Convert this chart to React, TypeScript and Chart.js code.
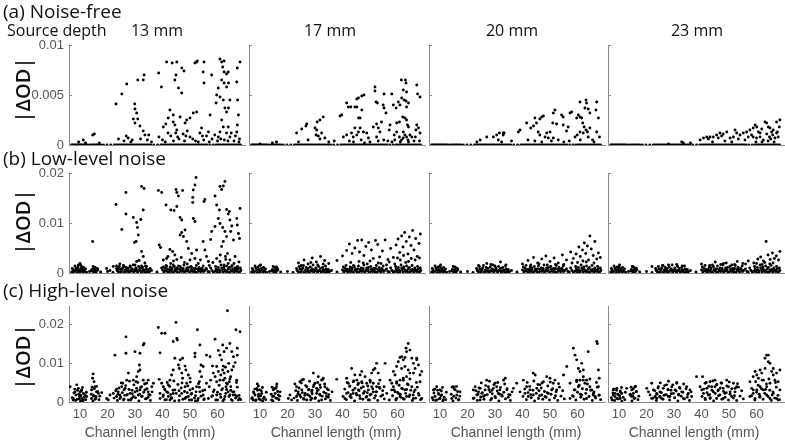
import React, { useEffect, useRef } from 'react';
import { Chart, registerables } from 'chart.js';
Chart.register(...registerables);

type Pt = [number, number];

// ---- Data: x = channel length (mm), y = |ΔOD| in units of 1e-3 ----
const DEPTHS = ['13 mm', '17 mm', '20 mm', '23 mm'];
const ROW_TITLES = ['(a) Noise-free', '(b) Low-level noise', '(c) High-level noise'];
const X_TICKS = [10, 20, 30, 40, 50, 60];
const X_MIN = 6;
const X_MAX = 70;
const ROW_Y_MAX = [10, 20, 24.6];
const ROW_Y_TICKS = [[0, 5, 10], [0, 10, 20], [0, 10, 20]];
const ROW_Y_LABELS = [['0', '0.005', '0.01'], ['0', '0.01', '0.02'], ['0', '0.01', '0.02']];

// channel lengths of the points lying on the zero line (noise-free row)
const zeroLineX = [7, 7.4, 7.8, 8.3, 8.7, 9.1, 9.6, 10, 10.4, 10.9, 11.3, 11.8, 12.2, 12.7, 13.5, 14.2, 14.8, 15.3, 15.9, 16.4, 17, 17.6, 18.5, 19.8, 21.2, 22.5, 23.1, 23.7, 24.3, 24.9, 25.5, 26.1, 26.7, 27.3, 27.9, 28.5, 29.1, 29.7, 30.3, 30.9, 31.5, 32.1, 32.7, 33.3, 33.9, 34.5, 35.1, 35.7, 36.8, 38.2, 39.4, 40, 40.6, 41.2, 41.8, 42.4, 43, 43.6, 44.2, 44.8, 45.4, 46, 46.6, 47.2, 47.8, 48.4, 49, 49.6, 50.2, 50.8, 51.4, 52, 52.6, 53.2, 53.8, 54.4, 55, 55.6, 56.2, 57.2, 58.4, 59.4, 60, 60.6, 61.2, 61.8, 62.4, 63, 63.6, 64.2, 64.8, 65.4, 66, 66.6, 67.2, 67.8, 68.4];

const nf13: Pt[] = [[11.2,0.5],[15.2,1.1],[14.6,1.0],[23.1,4.1],[25.2,5.1],[27,6.1],[31,6.5],[33,6.5],[33.3,7.0],[29.9,4.1],[30,3.6],[30.6,3.2],[29.4,2.6],[31,2.6],[30,2.2],[31.8,1.9],[33,1.4],[33.6,1.0],[38.6,7.2],[39.6,5.8],[38.7,0.8],[40.3,1.8],[41.2,2.1],[42.1,2.7],[41.5,8.3],[43.5,8.2],[45.2,8.3],[44.5,6.5],[44.9,7.0],[47,7.7],[47.8,7.4],[45.8,5.7],[47,5.2],[42.7,3.5],[43.9,3.0],[43.9,2.3],[44.5,2.0],[45.2,1.5],[46.4,2.8],[48.2,2.2],[48.8,2.5],[50,2.7],[51.2,3.2],[52.4,3.3],[51.8,8.2],[52.4,8.3],[52.7,8.4],[55.1,8.3],[54.8,7.3],[55.1,6.2],[57.9,7.0],[53.6,1.2],[54.2,1.7],[57.3,3.0],[56.7,1.3],[60.9,8.6],[61.5,8.3],[62.4,8.4],[61.9,7.8],[62.4,7.3],[63.3,7.1],[63.9,7.3],[61.5,6.5],[62.4,6.2],[63.3,5.8],[64,6.2],[60.9,4.8],[62.1,4.5],[62.7,3.7],[63.3,3.3],[64,3.7],[60.3,5.7],[59.7,5.0],[59.5,4.2],[64.5,4.5],[61.5,2.5],[62.1,1.8],[60.9,1.3],[63.3,1.2],[60.3,0.8],[64.5,0.8],[63.9,1.8],[67.2,7.7],[67,6.3],[67.3,4.5],[67.6,3.0],[67.2,2.0],[68.2,8.3],[67,1.3],[9.5,0.3],[12,0.2],[17,0.2],[24,0.6],[26,0.4],[27.5,0.7],[29,0.5],[34.5,0.5],[36,0.3],[40,0.5],[43,0.9],[46,0.6],[48,0.4],[50,0.8],[52,0.4],[55,0.5],[58,0.6],[59,1.0],[62.5,0.5],[66,0.4],[68,0.6],[65,1.2],[56,0.9],[49,1.4],[47.5,1.1],[42,1.2],[35,1.0],[32,0.6],[26.8,0.9],[41,0.3],[44,0.4],[45.5,0.8],[51,0.6],[53,0.3],[54.5,0.9],[57,0.3],[60,0.4],[61.2,0.6],[63.8,0.4],[66.5,0.9],[67.8,0.3],[48.5,0.9],[44.8,1.2],[28.5,0.3]];

const nf17: Pt[] = [[23.3,1.2],[25.2,1.6],[26.7,1.9],[27,2.1],[30.8,2.3],[31.8,2.5],[33,2.8],[30,1.7],[30.6,1.5],[31.2,0.9],[32.4,1.2],[31.8,0.6],[33.6,0.7],[30.4,1.0],[39.1,2.9],[39.7,3.0],[41.5,4.2],[42.1,3.8],[43,3.8],[45.2,4.6],[45.8,4.7],[47,4.9],[47.8,5.0],[45.2,3.8],[44.5,3.8],[45.8,2.7],[46.4,2.7],[47,3.5],[40.3,0.8],[41.5,1.0],[43.3,1.2],[43.9,0.8],[45.2,1.0],[44.5,1.7],[45.8,1.3],[46.4,1.7],[47.6,1.3],[48.8,1.2],[49.4,0.7],[51.8,5.8],[51.8,5.4],[52.2,4.3],[52.7,4.2],[51.2,1.8],[52.4,2.1],[53,1.7],[53.6,1.3],[52.4,0.8],[54.2,2.3],[55.1,5.1],[54.8,4.0],[55.1,3.7],[55.8,3.2],[57.9,5.1],[58.5,4.0],[57.3,2.0],[57,1.5],[58.8,1.0],[59.5,3.7],[60.3,4.3],[60.9,4.0],[59.7,1.3],[60.7,0.8],[62.1,0.7],[61.4,6.5],[62.9,6.5],[63.1,6.2],[62.1,5.5],[63.3,5.3],[61.5,4.7],[62.4,4.5],[63.1,4.4],[64,4.2],[63.3,3.8],[61.9,2.8],[62.7,2.7],[63.3,2.5],[63.6,2.0],[64,1.8],[60.7,2.3],[59.7,2.2],[62.1,1.3],[62.7,1.0],[63.3,0.8],[61.5,0.5],[64.5,1.0],[65.2,0.8],[64,0.3],[67,6.0],[67,2.0],[67.6,1.7],[68.2,1.2],[66.7,1.5],[68.2,4.8],[67.3,5.1],[10,0.1],[14.5,0.2],[16,0.3],[24,0.3],[27.5,0.5],[35,0.3],[37,0.4],[42.5,0.4],[50,0.3],[55,0.5],[56.5,0.4],[58,0.3],[66,0.4],[44,0.3],[46.8,0.5],[48,0.2],[53,0.4],[59,0.5],[61,0.3],[63.8,0.5],[66.5,0.8],[68,0.4]];

const nf20: Pt[] = [[33,1.2],[39.1,1.5],[38.5,1.3],[41.5,2.2],[43,1.7],[44,1.9],[44.5,2.7],[45.1,2.2],[46.3,2.6],[47,2.8],[47.6,2.9],[45.7,1.3],[46.3,1.0],[48.2,0.8],[48.8,1.2],[50,1.3],[51.2,0.7],[49.4,0.7],[51.8,3.5],[51.2,3.2],[51,2.2],[52.4,2.1],[54.2,3.0],[54.8,2.8],[54.8,2.0],[56,1.4],[56.6,1.8],[57.3,3.2],[57.9,3.3],[59.7,2.7],[60.3,3.0],[60.9,2.8],[61.5,2.7],[60.9,4.3],[63.1,4.5],[63.3,4.2],[62.7,3.7],[63.9,3.6],[61.9,2.2],[62.4,1.8],[63.1,1.5],[63.6,1.3],[62.1,1.2],[63.9,0.8],[64.5,1.7],[60.9,1.3],[59.9,1.0],[59.1,0.8],[67,4.3],[66.7,3.5],[67.6,2.7],[67,1.3],[68,0.8],[64.5,3.2],[23.4,0.3],[24.6,0.5],[27,0.8],[29.4,0.8],[30.6,1.0],[31.6,1.2],[33,1.0],[33.3,1.2],[31.2,0.5],[32.4,0.3],[36,0.4],[42,0.5],[53,0.5],[57,0.4],[65.5,0.5],[44.5,0.4],[47,0.3],[50.5,0.4],[55,0.3],[61,0.5],[66,0.3]];

const nf23: Pt[] = [[32.8,0.3],[33.4,0.2],[39.5,0.5],[40.7,0.7],[41.9,0.8],[42.5,0.6],[43.1,0.8],[44.3,0.8],[45.5,1.0],[46.1,0.7],[46.7,1.2],[47.3,0.9],[47.9,1.1],[49.2,1.3],[50.4,0.7],[51.6,0.8],[52.2,1.5],[52.8,1.2],[54,1.0],[53.4,0.6],[55.2,1.2],[56.4,1.3],[57,0.8],[57.6,1.5],[58.2,1.0],[58.8,1.7],[59.5,2.0],[60.1,1.8],[60.7,1.3],[61.3,1.2],[61.9,1.6],[63.1,2.3],[63.7,2.2],[64.3,1.8],[64.9,1.7],[65.5,1.3],[66.1,1.5],[63.7,1.1],[64.7,0.8],[65.2,0.6],[65.9,1.0],[66.7,0.7],[67.3,1.2],[67.9,0.8],[68.3,1.8],[67.3,2.3],[67.6,1.3],[60,0.7],[62.5,0.5],[58.8,0.8],[61.3,0.8],[36,0.2],[28,0.1],[68.5,2.5],[44,0.3],[48.5,0.4],[51,0.3],[55.8,0.5],[59.8,0.3],[62,0.3],[64.2,0.4],[66.4,0.3]];

// low-level noise floor (row b), read as the dense band near zero
const lnFloor: Pt[] = [[7,0.2],[7.5,0.6],[8,0.3],[8.5,1.0],[9,0.1],[9.5,0.7],[10,0.4],[10.5,0.9],[11,0.2],[11.5,0.5],[12,0.8],[12.5,0.1],[13.5,0.3],[14.5,0.7],[15,0.2],[15.5,1.1],[16,0.4],[16.5,0.6],[17.5,0.2],[20,0.3],[22,0.1],[23.5,0.5],[24,0.2],[24.5,0.8],[25,0.3],[25.5,1.0],[26,0.1],[26.5,0.6],[27,0.3],[27.5,0.9],[28,0.2],[28.5,0.5],[29,0.8],[29.5,0.2],[30,0.4],[30.5,0.7],[31,0.1],[31.5,0.5],[32,0.9],[32.5,0.3],[33,0.6],[33.5,0.2],[34,0.8],[34.5,0.4],[35,0.1],[36,0.5],[38,0.2],[40,0.6],[40.5,0.2],[41,0.9],[41.5,0.4],[42,0.1],[42.5,0.7],[43,0.3],[43.5,1.0],[44,0.2],[44.5,0.6],[45,0.4],[45.5,0.8],[46,0.1],[46.5,0.5],[47,0.3],[47.5,0.9],[48,0.2],[48.5,0.6],[49,0.4],[49.5,1.1],[50,0.2],[50.5,0.7],[51,0.3],[51.5,0.5],[52,0.9],[52.5,0.1],[53,0.4],[53.5,0.7],[54,0.2],[54.5,0.6],[55,0.3],[56,0.8],[57,0.2],[58,0.5],[59,0.3],[59.5,0.8],[60,0.1],[60.5,0.6],[61,0.4],[61.5,1.0],[62,0.2],[62.5,0.7],[63,0.3],[63.5,0.5],[64,0.9],[64.5,0.1],[65,0.4],[65.5,0.7],[66,0.2],[66.5,0.6],[67,0.3],[67.5,0.8],[68,0.2],[68.5,0.5]];

const lnFloor2: Pt[] = [[7.2,0.9],[7.7,0.3],[8.2,1.4],[8.8,0.6],[9.3,1.2],[9.9,0.2],[10.2,1.6],[10.8,0.5],[11.3,1.1],[11.8,0.3],[14.3,0.4],[14.8,1.3],[15.3,0.6],[15.8,0.1],[16.3,0.9],[23.3,0.9],[23.8,0.4],[24.3,1.3],[24.8,0.1],[25.3,0.7],[25.8,1.5],[26.3,0.3],[26.8,1.1],[27.3,0.6],[27.8,0.2],[28.3,1.2],[28.8,0.4],[29.3,1.6],[29.8,0.6],[30.3,1.0],[30.8,0.3],[31.3,1.3],[31.8,0.5],[32.3,0.2],[32.8,1.1],[33.3,0.5],[33.8,1.4],[34.3,0.1],[34.8,0.7],[35.3,0.3],[40.3,1.2],[40.8,0.4],[41.3,1.5],[41.8,0.7],[42.3,0.3],[42.8,1.2],[43.3,0.6],[43.8,0.1],[44.3,1.3],[44.8,0.8],[45.3,0.2],[45.8,1.4],[46.3,0.7],[46.8,1.0],[47.3,0.5],[47.8,1.6],[48.3,0.3],[48.8,1.0],[49.3,0.6],[49.8,0.1],[50.3,1.3],[50.8,0.4],[51.3,0.9],[51.8,0.2],[52.3,1.5],[52.8,0.7],[53.3,1.1],[53.8,0.3],[54.3,0.9],[54.8,1.4],[55.3,0.5],[56.5,0.3],[57.5,1.0],[58.5,0.2],[59.3,1.3],[59.8,0.5],[60.3,1.1],[60.8,0.2],[61.3,1.6],[61.8,0.7],[62.3,1.2],[62.8,0.4],[63.3,1.4],[63.8,0.1],[64.3,1.1],[64.8,0.6],[65.3,1.5],[65.8,0.3],[66.3,1.0],[66.8,0.5],[67.3,1.3],[67.8,0.2],[68.3,1.0]];

const ln13: Pt[] = [[14.6,6.3],[23.1,13.7],[26.7,16.1],[26.7,11.8],[25.2,8.7],[29.4,11.1],[30.6,10.1],[30.9,9.1],[31.2,7.6],[30.4,6.3],[29.8,6.1],[32.1,10.7],[32.4,17.3],[33.3,16.9],[33,12.6],[32.4,4.3],[33,3.3],[31.5,2.5],[33.6,2.0],[32.4,1.4],[38.5,16.5],[39.7,16.1],[38.8,5.6],[39.3,5.1],[41.3,13.6],[43,12.6],[44.2,12.5],[45.2,13.3],[44.9,16.7],[45.2,16.1],[45.8,15.4],[47.3,16.5],[46.4,11.1],[47,10.6],[47,8.1],[47.6,7.3],[46.4,7.6],[48.2,8.6],[42.7,4.7],[43.7,4.3],[44.5,3.6],[40.3,2.6],[41.5,2.9],[43,1.9],[43.9,1.6],[45.2,2.7],[41.5,1.3],[39.7,1.0],[42.7,0.6],[45.2,1.0],[46.4,1.3],[48.8,6.3],[49.4,4.9],[50.6,3.9],[50,2.6],[52.2,19.1],[51.8,17.6],[51.2,16.6],[51,15.1],[51,14.1],[55.4,14.7],[55.1,14.3],[51.2,10.9],[51.8,10.3],[52.4,4.6],[51.8,2.9],[53,1.9],[53.4,0.9],[54.8,6.3],[55.4,4.6],[56,3.3],[56.7,2.3],[55.8,0.9],[57.5,6.7],[57.9,8.3],[59.1,9.3],[59.1,15.4],[59.7,13.6],[60.7,12.6],[60.9,17.3],[61.5,16.7],[62.1,17.4],[62.7,18.3],[60.3,10.9],[60.9,9.9],[61.9,9.1],[62.7,8.3],[63.3,7.3],[62.1,6.3],[61.5,5.3],[63.6,3.9],[62.9,3.3],[63.3,12.7],[64.3,12.3],[63.9,11.8],[64.5,10.6],[65.2,9.4],[64.8,8.3],[65.8,6.6],[59.7,2.9],[60.9,2.3],[62.4,1.6],[63.9,1.9],[65.2,1.3],[64.5,2.6],[66.4,3.3],[65.8,0.6],[67,1.0],[67,10.9],[67.2,9.6],[67.6,7.9],[68,6.9],[68.2,12.9],[8.8,0.9],[9.4,1.6],[10,1.9],[10.6,1.3],[11.2,0.6],[8.2,0.5],[9.8,0.4],[14.8,0.9],[15.4,0.5],[14.2,0.6],[19.7,0.9],[20.9,0.5],[22.1,1.3],[23.3,1.4],[23.9,0.9],[24.5,1.8],[25.2,0.6],[26,1.3],[27,0.9],[28.2,1.4],[28.8,0.7],[30,1.6],[30.6,2.3],[31.8,0.9],[33,0.5],[34.2,1.3],[35.5,0.9],[44,2.4],[46.8,3.1],[49,1.8],[50.5,1.2],[53.8,2.6],[57,1.5],[58.3,2.1],[61,3.6],[63,2.7],[66,1.9],[67.8,2.2],[42,3.3],[48,2.1]];

const ln17: Pt[] = [[16,1.2],[10,1.5],[24,2.0],[26,2.6],[27.5,1.8],[29,3.0],[30.5,2.2],[32,3.3],[33.5,2.5],[35,1.9],[31,1.6],[38,2.5],[40,3.4],[41.5,4.5],[42.5,5.8],[43.5,3.9],[44.5,5.0],[45.5,6.5],[46.2,4.2],[47,6.6],[47.8,3.5],[48.5,5.3],[49.5,6.1],[50.5,4.6],[51.2,2.9],[52,6.5],[52.8,5.7],[53.5,3.2],[54.5,4.4],[55.5,6.6],[56.5,2.7],[57.5,4.9],[58.5,3.1],[59.5,5.6],[60.2,6.8],[60.8,4.1],[61.5,7.4],[62,5.2],[62.6,8.1],[63.2,6.3],[63.8,3.8],[64.3,7.2],[64.9,5.5],[65.5,8.5],[66,4.6],[66.6,6.9],[67.2,3.3],[67.8,5.9],[68.3,7.8],[61,2.6],[63,2.1],[65,2.9],[59,1.8],[56,1.6],[53,2.0],[49,1.8],[46,2.3],[43,2.1],[44,1.5],[47.5,2.0],[50,2.4],[54,1.9],[57,2.2],[60,3.0],[62.2,3.5],[64,2.3],[66.4,2.6],[68,3.0],[25,1.5],[28.5,2.1],[33,1.8]];

const ln20: Pt[] = [[24,1.5],[27,1.9],[30,1.4],[32,2.2],[34,1.6],[40,1.8],[42,2.5],[44,3.1],[45.5,2.0],[47,2.8],[48.5,3.4],[50,2.3],[51.5,3.0],[53,2.0],[54.5,3.6],[56,2.6],[57.5,4.2],[58.5,2.9],[59.5,3.8],[60.5,5.2],[61,3.3],[61.8,4.6],[62.5,6.0],[63,3.9],[63.6,5.4],[64.5,7.4],[65,4.8],[65.7,3.5],[66.3,6.3],[67,2.8],[67.6,4.0],[68.3,3.1],[62,2.4],[64,2.6],[60,2.1],[55,1.7],[49,1.6],[43,1.6],[46,1.8],[52,1.7],[58,2.0],[63.2,2.2],[66,2.0],[28.5,1.7],[10,1.3],[15.5,1.2]];

const ln23: Pt[] = [[22,1.3],[28,1.6],[33,1.4],[40,1.8],[43,1.5],[45,2.2],[47,1.7],[49,2.0],[51,1.6],[53,2.3],[55,1.9],[57,2.4],[59,2.0],[60.5,2.8],[61.5,3.2],[62.5,2.4],[63.5,6.3],[64.2,3.6],[65,2.7],[65.8,4.0],[66.5,2.9],[67.2,3.4],[68,2.6],[68.5,4.3],[64.8,1.8],[62,1.7],[10,1.2],[15,1.3],[26,1.5],[31,1.7],[44,1.6],[48,1.9],[52,1.7],[56,1.8],[60,1.9],[63,2.1],[66,2.0]];

// high-level noise floor (row c), the dense clusters below ~0.005
const hnFloor: Pt[] = [[7.2,1.1],[7.8,2.3],[8.4,0.4],[9.1,3.0],[9.7,0.8],[10.3,1.6],[10.9,3.7],[11.5,1.2],[12.1,0.6],[8.1,3.3],[9.5,2.0],[11,0.2],[7.5,0.5],[10.5,2.8],[12.3,2.5],[14.1,2.0],[14.7,0.3],[15.2,3.4],[15.8,1.0],[16.4,2.7],[16.9,0.6],[15,1.5],[16,4.0],[14.4,3.8],[17.2,1.5],[22.4,1.0],[23,2.9],[23.6,0.4],[24.2,3.6],[24.8,1.3],[25.4,2.4],[26,0.7],[26.6,4.2],[27.2,1.9],[27.8,3.2],[28.4,0.5],[29,2.1],[29.6,4.4],[30.2,1.1],[30.8,2.8],[31.4,0.3],[32,3.7],[32.6,1.5],[33.2,2.5],[33.8,0.8],[34.4,3.4],[35,1.9],[35.6,0.4],[36.2,2.6],[25,4.9],[28,5.3],[31,5.0],[33.5,4.6],[23.8,2.0],[26.3,1.7],[28.9,3.0],[31.7,2.0],[34.8,1.2],[40.2,1.4],[40.8,3.3],[41.4,0.6],[42,2.4],[42.6,4.0],[43.2,1.1],[43.8,3.0],[44.4,0.3],[45,2.2],[45.6,4.5],[46.2,1.6],[46.8,3.6],[47.4,0.7],[48,2.7],[48.6,1.2],[49.2,4.1],[49.8,0.5],[50.4,2.0],[51,3.4],[51.6,1.0],[52.2,2.6],[52.8,0.4],[53.4,3.8],[54,1.5],[54.6,2.9],[55.2,0.8],[41.7,5.0],[44.1,5.4],[47.1,4.9],[50.1,5.1],[53.1,4.7],[43,1.9],[46,2.9],[49,2.4],[52,1.6],[58.2,1.6],[58.8,3.1],[59.4,0.5],[60,2.5],[60.6,4.3],[61.2,1.2],[61.8,3.4],[62.4,0.7],[63,2.2],[63.6,4.6],[64.2,1.4],[64.8,3.0],[65.4,0.4],[66,2.6],[66.6,1.0],[67.2,3.8],[67.8,1.7],[68.4,0.6],[59.7,5.2],[62.1,5.6],[64.5,5.9],[66.9,5.0],[61,2.0],[63.3,3.2],[65.7,1.8]];

const hn13: Pt[] = [[6.4,3.9],[8.8,4.4],[9.4,3.5],[10,2.6],[10.6,3.1],[11.2,2.2],[8.5,1.8],[9.8,1.4],[10.6,0.9],[11.8,1.8],[12.4,1.4],[9,0.7],[10.2,0.3],[8.2,2.6],[7.6,0.9],[11.2,0.5],[10,1.8],[14.8,7.2],[14.6,6.1],[15.1,5.2],[15.5,3.9],[14.2,3.1],[16,2.6],[14.8,1.8],[15.8,1.4],[16.7,2.2],[15.5,0.7],[14.2,0.9],[17.9,2.4],[19.7,0.9],[20.9,1.8],[20.3,0.5],[22.7,12.0],[23.3,3.3],[23.9,2.6],[22.1,2.2],[24.5,1.8],[25.2,3.9],[25.5,4.8],[26,3.1],[27,5.6],[26.4,3.5],[27.6,7.4],[26.7,16.7],[26.7,12.5],[23.3,1.4],[24.5,0.9],[25.8,0.5],[27,1.8],[28.2,2.2],[28.8,0.9],[27.6,0.5],[29.4,1.4],[30,2.6],[30.6,3.5],[31.2,1.8],[31.8,3.1],[32.4,3.9],[29.4,5.6],[30.6,6.5],[31.2,7.8],[31.8,8.2],[33,14.6],[33.3,15.0],[30,12.9],[31.8,12.5],[31.6,9.5],[30.4,5.2],[33,5.6],[34.2,4.8],[33.6,3.1],[34.8,2.6],[35.5,1.8],[34.2,0.9],[36.1,3.9],[36.7,4.8],[32.4,1.4],[34.8,5.6],[38.5,19.1],[39.1,12.6],[39.7,17.6],[40.9,17.6],[38.8,5.8],[39.7,4.8],[40.3,3.9],[40.9,3.1],[39.1,2.2],[40.3,1.8],[41.5,2.6],[42.1,4.4],[42.7,5.6],[43.3,6.9],[43.9,8.2],[42.1,1.4],[43.3,0.9],[43.9,2.2],[44.5,3.1],[42.7,0.5],[40.9,0.5],[39.1,0.9],[44.9,20.4],[45.2,16.3],[45.4,15.9],[43.9,15.5],[44.5,11.2],[45.8,9.5],[46.4,10.8],[46.1,8.6],[47,7.4],[47.3,6.1],[47.3,11.2],[48.2,9.2],[48.5,8.2],[49.4,6.9],[50,6.1],[48.8,4.8],[48.2,3.9],[50,3.1],[50.6,2.2],[49.4,1.4],[48.2,0.9],[50.6,0.5],[47,2.2],[51.8,12.5],[51.8,11.6],[52.7,18.5],[53.6,14.6],[54,9.5],[54.8,9.1],[53.6,7.8],[54.2,6.5],[53.4,5.2],[52.4,3.9],[53.6,2.6],[54.8,1.8],[53,0.9],[55.4,3.1],[56,4.8],[56,12.0],[57.3,11.6],[58.2,9.2],[58.5,7.4],[59.1,6.5],[57.5,5.6],[57,3.9],[58.5,2.6],[59.7,1.8],[57.9,1.4],[56.7,0.9],[59.1,16.1],[60.3,13.2],[60.9,12.0],[61.5,10.8],[62.1,9.2],[61.9,8.2],[62.4,7.4],[62.7,6.1],[63.3,4.8],[63.1,3.9],[63.9,2.6],[64.5,1.8],[62.7,1.4],[61.5,3.1],[60.9,5.6],[60.3,7.8],[59.7,9.1],[61.2,6.9],[64.3,5.2],[64.8,6.5],[65.2,8.2],[65.8,9.1],[66.4,10.1],[65.8,11.6],[65.2,12.9],[64.5,15.0],[63.3,13.8],[61.9,14.6],[62.4,12.9],[64.1,9.9],[62.9,8.9],[63.8,7.8],[64.8,3.9],[65.5,2.6],[66.4,1.8],[67,5.6],[67.2,12.0],[67,1.4],[67.6,0.5],[63.6,23.4],[66.7,18.5],[68.2,18.0],[67.2,13.8],[60,0.5],[62,0.3],[65,0.6],[68,0.9],[46,0.4],[52,0.3],[55,0.6]];

const hn17: Pt[] = [[7.6,2.6],[8.8,3.5],[9.4,4.1],[10,3.1],[8.2,1.8],[9.4,1.4],[10.6,2.2],[7,0.9],[11.2,0.9],[10.2,0.5],[8.6,0.5],[9,4.6],[14.8,3.1],[15.5,2.2],[16.1,4.6],[14.6,1.4],[16.3,0.9],[17.3,2.6],[16.7,1.8],[14.2,0.5],[15.8,3.5],[20.9,1.8],[20.3,0.9],[21.5,0.5],[22.7,4.6],[23.3,3.9],[24.5,5.2],[25.2,5.6],[25.8,5.8],[23.9,2.6],[24.5,1.8],[25.2,3.1],[26.4,2.2],[27,3.9],[27.6,3.1],[28.2,1.4],[28.8,2.6],[29.4,3.9],[30,4.8],[30.6,2.2],[31.2,3.1],[31.8,1.8],[32.4,5.6],[33,6.1],[33.6,3.9],[34,2.2],[34.2,1.4],[29.4,7.4],[31.2,6.5],[32.8,5.8],[34.9,3.1],[23.3,1.4],[25.8,0.9],[27,0.5],[30,0.9],[32.4,0.5],[27.6,1.8],[28.8,0.9],[30.6,3.5],[31.8,4.4],[37.9,5.8],[41.5,6.1],[42.1,4.8],[42.7,4.1],[43.3,8.6],[43.9,5.2],[44.5,3.5],[45.2,5.6],[45.8,3.1],[46.4,6.9],[47,5.2],[47.6,3.9],[48.2,6.5],[48.8,4.8],[49.4,3.1],[50,5.6],[50.6,3.9],[51.2,8.2],[51.8,8.6],[52.4,9.9],[53,7.4],[53.6,5.6],[52.4,3.9],[51.2,2.6],[50,1.8],[48.8,1.4],[47.6,2.2],[46.4,0.9],[45.2,1.8],[43.9,2.2],[42.7,1.4],[41.5,2.2],[40.9,0.9],[44.5,6.9],[45.8,4.8],[47,7.8],[50.6,7.4],[51.2,4.8],[52.4,2.6],[49.4,0.5],[53.6,3.5],[55.5,9.9],[55.1,3.9],[54.6,1.8],[58.5,7.8],[59.1,6.9],[59.7,9.1],[60.3,10.3],[60.9,11.4],[61.5,11.6],[62.1,10.8],[62.7,11.4],[63.1,13.8],[63.9,15.0],[64.5,13.3],[63.3,12.9],[65.2,11.2],[65.8,9.9],[66.4,8.6],[67,10.8],[67.6,9.5],[68.2,6.9],[68.8,7.8],[67,11.2],[65.8,7.4],[64.5,7.4],[63.3,6.5],[62.1,6.1],[60.9,5.6],[59.7,4.8],[58.5,3.9],[57.9,3.1],[59.1,2.6],[60.3,2.2],[61.5,3.5],[62.7,3.1],[63.9,4.4],[65.2,3.9],[66.4,3.1],[67.6,2.2],[68.2,5.2],[64.5,1.8],[63.3,1.4],[62.1,0.9],[60.9,1.4],[59.7,0.9],[65.8,0.9],[68.8,0.9],[57.3,5.6],[57.9,4.8],[56.1,2.2],[57,0.5],[61.5,8.6],[62.7,9.1],[63.9,8.2]];

const hn20: Pt[] = [[7.6,3.1],[8.8,3.9],[9.4,2.2],[8.2,1.4],[10,0.9],[10.6,1.8],[10,3.1],[8.8,0.5],[11.2,0.5],[14.9,3.9],[15.5,3.1],[16.1,1.8],[14.3,0.9],[16.7,0.5],[17.3,2.6],[22.1,3.1],[22.8,3.9],[23.4,1.8],[24,2.6],[24.6,3.5],[25.2,2.2],[25.8,1.4],[27,5.6],[27.6,3.9],[26.4,3.1],[28.2,2.6],[29.4,3.5],[30,4.8],[30.6,3.9],[31.2,2.2],[31.8,3.1],[32.5,1.8],[33.1,5.6],[33.7,6.1],[34.3,3.1],[35.5,1.8],[36.7,3.5],[37.9,4.8],[39.1,2.6],[28.8,0.9],[30,1.4],[22.1,0.9],[24.6,0.5],[40.3,5.6],[41.5,3.9],[42.7,3.1],[43.9,7.4],[44.6,6.9],[45.2,3.5],[46.4,4.4],[47.6,5.2],[48.8,6.5],[50,6.1],[51.2,4.8],[51.8,5.6],[50.6,3.1],[49.4,2.2],[48.2,1.4],[47,1.8],[45.8,0.9],[43.9,1.8],[42.1,1.4],[40.9,2.2],[52.4,3.1],[54.9,6.9],[56.1,9.1],[57.3,4.8],[58.5,13.8],[59.1,12.0],[59.7,10.8],[60.3,8.6],[60.9,7.8],[61.5,9.9],[62.1,6.5],[62.7,4.8],[63.3,5.6],[63.9,12.9],[64.5,3.9],[65.2,3.1],[65.8,2.2],[66.4,1.4],[67,15.5],[67.2,15.0],[67.6,8.2],[67.9,6.1],[63.3,0.9],[61.5,1.8],[60.3,3.9],[59.1,3.1],[58.5,1.4],[57.3,0.9],[67.6,3.9],[67.9,1.8],[59.7,5.6],[60.9,5.6],[62.1,8.2]];

const hn23: Pt[] = [[7.9,3.1],[8.5,2.2],[9.2,3.5],[9.8,1.8],[10.4,2.6],[9.2,0.9],[8.5,1.4],[10.4,0.9],[11,2.2],[7.9,1.8],[12.8,3.5],[14.6,3.1],[15.2,2.2],[15.8,3.9],[14.6,1.4],[15.5,0.9],[14,1.8],[16.2,2.6],[20.1,3.5],[20.7,2.6],[21.3,1.8],[21.9,4.8],[22.5,3.1],[23.1,1.4],[23.7,2.2],[24.3,3.9],[24.9,2.6],[25.5,0.9],[26.1,3.5],[26.7,1.8],[27.3,4.4],[27.9,3.1],[28.5,1.4],[29.2,3.9],[29.8,2.2],[30.4,3.1],[31,4.8],[31.6,1.8],[32.2,3.5],[32.8,2.6],[33.4,0.9],[34.6,3.9],[35.2,2.2],[35.8,3.1],[36.4,1.4],[24.9,1.4],[21.9,0.9],[23.7,0.9],[27.9,1.4],[38.2,6.5],[40.4,6.5],[39.5,3.9],[40.1,3.1],[40.7,2.2],[41.3,4.8],[41.9,3.5],[42.5,1.8],[43.1,5.2],[43.7,3.9],[44.3,2.6],[44.9,5.6],[45.5,4.4],[46.1,3.1],[46.7,1.8],[47.3,4.8],[47.9,3.5],[48.5,2.2],[49.2,5.6],[49.8,3.9],[50.4,2.6],[51.6,4.8],[52.2,3.5],[52.8,3.9],[41.3,0.9],[43.1,0.9],[45.5,0.9],[47.9,0.9],[51,1.4],[44.9,3.9],[57.6,5.2],[58.8,6.5],[59.5,7.8],[60.1,6.9],[60.7,6.1],[61.3,8.2],[61.9,7.4],[62.5,5.6],[63.1,8.6],[63.7,12.0],[64.3,12.0],[63.1,11.2],[64.3,10.3],[64.9,9.9],[65.5,7.8],[66.1,8.6],[66.7,5.6],[67.3,7.4],[67.9,5.2],[68.5,8.2],[66.1,6.9],[64.9,4.8],[63.7,3.9],[62.5,3.1],[61.3,3.9],[60.1,3.1],[58.8,2.2],[58.2,3.5],[61.3,1.4],[63.7,1.8],[66.1,2.2],[67.3,0.9],[67.9,0.5],[68.5,3.1],[59.5,0.9],[64.9,0.9],[57.6,1.4]];

const PANEL_POINTS: Pt[][][] = [
  [nf13, nf17, nf20, nf23],
  [ln13, ln17, ln20, ln23],
  [hn13, hn17, hn20, hn23],
];

// ---- Layout ----
const COL_LEFT = [69, 249, 429, 608];
const PLOT_W = 176;
const ROW_TOP = [45, 173, 306];
const ROW_H = [100, 100, 96];
const PAD_L = 60;
const PAD_T = 10;
const PAD_R = 4;
const AXIS_GRAY = '#8a8a8a';
const TEXT_GRAY = '#555555';
const SANS = "'Liberation Sans', Arial, sans-serif";
const TITLE_FONT = "'Open Sans', 'Noto Sans', sans-serif";
const XLABEL_CENTERS = [150, 336, 516, 694];
const DEPTH_CENTERS = [157, 330, 512, 697];
const ROW_TITLE_BASE = [18, 165, 297];
const YLABEL_CENTERS = [90, 222, 357];

const inwardTicks = {
  id: 'inwardTicks',
  afterDatasetsDraw(chart: any) {
    const { ctx, chartArea, scales } = chart;
    const y = scales.y;
    ctx.save();
    ctx.strokeStyle = AXIS_GRAY;
    ctx.lineWidth = 1;
    y.ticks.forEach((t: any) => {
      const py = Math.round(y.getPixelForValue(t.value)) + 0.5;
      ctx.beginPath();
      ctx.moveTo(chartArea.left, py);
      ctx.lineTo(chartArea.left + 3, py);
      ctx.stroke();
    });
    ctx.restore();
  },
};

function panelBottomPad(row: number) {
  return row === 2 ? 44 : 8;
}

function toXY(pts: Pt[]) {
  return pts.map(([x, y]) => ({ x, y }));
}

function makeConfig(row: number, col: number): any {
  const pts = PANEL_POINTS[row][col];
  const datasets: any[] = [];
  const common = { pointRadius: 1.45, pointBorderWidth: 0, pointBackgroundColor: '#000', showLine: false };
  if (row === 0) datasets.push({ ...common, data: zeroLineX.map((x) => ({ x, y: 0 })) });
  if (row === 1) {
    datasets.push({ ...common, data: toXY(lnFloor) });
    datasets.push({ ...common, data: toXY(lnFloor2) });
  }
  if (row === 2) datasets.push({ ...common, data: toXY(hnFloor) });
  datasets.push({ ...common, data: toXY(pts) });
  const yTicks = ROW_Y_TICKS[row];
  const yLabels = ROW_Y_LABELS[row];
  const padB = panelBottomPad(row);
  return {
    type: 'scatter',
    data: { datasets },
    plugins: [inwardTicks],
    options: {
      animation: false,
      responsive: false,
      maintainAspectRatio: false,
      devicePixelRatio: 1,
      events: [],
      layout: { padding: { left: 0, right: PAD_R, top: PAD_T, bottom: 0 } },
      plugins: { legend: { display: false }, tooltip: { enabled: false }, title: { display: false } },
      scales: {
        x: {
          type: 'linear',
          min: X_MIN,
          max: X_MAX,
          grid: { display: false, drawTicks: false },
          border: { display: true, color: AXIS_GRAY, width: 1 },
          ticks: {
            display: row === 2,
            padding: 5,
            color: TEXT_GRAY,
            font: { family: SANS, size: 13 },
            maxRotation: 0,
            autoSkip: false,
          },
          afterBuildTicks: (s: any) => {
            s.ticks = X_TICKS.map((v) => ({ value: v }));
          },
          afterFit: (s: any) => {
            s.height = padB;
            s.paddingLeft = 0;
            s.paddingRight = 0;
          },
        },
        y: {
          type: 'linear',
          min: 0,
          max: ROW_Y_MAX[row],
          grid: { display: false, drawTicks: false },
          border: { display: true, color: AXIS_GRAY, width: 1 },
          ticks: {
            display: col === 0,
            padding: 5,
            color: TEXT_GRAY,
            font: { family: SANS, size: 13 },
            callback: (v: number) => {
              const i = yTicks.indexOf(v);
              return i >= 0 ? yLabels[i] : '';
            },
          },
          afterBuildTicks: (s: any) => {
            s.ticks = yTicks.map((v) => ({ value: v }));
          },
          afterFit: (s: any) => {
            s.width = PAD_L;
            s.paddingTop = 0;
            s.paddingBottom = 0;
          },
        },
      },
    },
  };
}

const PANEL_LIST: { row: number; col: number }[] = [];
for (let r = 0; r < 3; r++) for (let c = 0; c < 4; c++) PANEL_LIST.push({ row: r, col: c });

export default function App() {
  const refs = useRef<(HTMLCanvasElement | null)[]>([]);
  useEffect(() => {
    const charts = PANEL_LIST.map((p, i) => new Chart(refs.current[i] as HTMLCanvasElement, makeConfig(p.row, p.col)));
    return () => charts.forEach((c) => c.destroy());
  }, []);

  return (
    <div style={{ position: 'absolute', left: 0, top: 0, width: 785, height: 442, background: '#fff', overflow: 'hidden' }}>
      {PANEL_LIST.map((p, i) => {
        const w = PAD_L + PLOT_W + PAD_R;
        const h = PAD_T + ROW_H[p.row] + panelBottomPad(p.row);
        return (
          <canvas
            key={i}
            ref={(el) => {
              refs.current[i] = el;
            }}
            width={w}
            height={h}
            style={{ position: 'absolute', left: COL_LEFT[p.col] - PAD_L, top: ROW_TOP[p.row] - PAD_T, width: w, height: h }}
          />
        );
      })}
      <svg width={785} height={442} style={{ position: 'absolute', left: 0, top: 0, pointerEvents: 'none' }}>
        {ROW_TITLES.map((t, r) => (
          <text key={t} x={3} y={ROW_TITLE_BASE[r]} fontFamily={TITLE_FONT} fontSize={19} fill="#111">
            {t}
          </text>
        ))}
        <text x={7} y={36} fontFamily={TITLE_FONT} fontSize={16} fill="#111">
          Source depth
        </text>
        {DEPTHS.map((d, c) => (
          <text key={d} x={DEPTH_CENTERS[c]} y={36} textAnchor="middle" fontFamily={TITLE_FONT} fontSize={16} fill="#111">
            {d}
          </text>
        ))}
        {YLABEL_CENTERS.map((yc, r) => (
          <text
            key={'yl' + r}
            transform={`translate(30, ${yc}) rotate(-90)`}
            textAnchor="middle"
            fontFamily={TITLE_FONT}
            fontWeight={600}
            fontSize={20}
            fill="#111"
          >
            |ΔOD|
          </text>
        ))}
        {XLABEL_CENTERS.map((xc, c) => (
          <text key={'xl' + c} x={xc} y={437} textAnchor="middle" fontFamily={SANS} fontSize={14} fill={TEXT_GRAY}>
            Channel length (mm)
          </text>
        ))}
      </svg>
    </div>
  );
}
